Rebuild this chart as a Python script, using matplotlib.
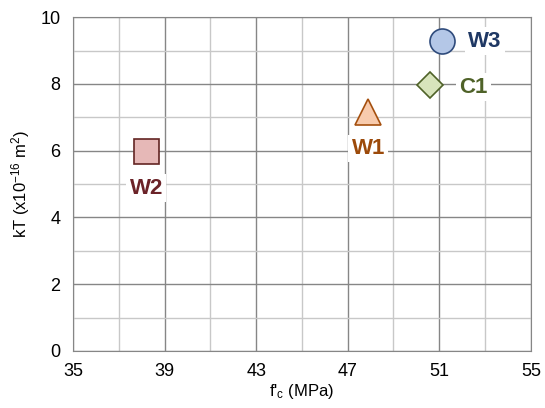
import matplotlib
matplotlib.use("Agg")
import matplotlib.pyplot as plt
import numpy as np

plt.rcParams['font.family'] = ['Liberation Sans', 'DejaVu Sans']
plt.rcParams['mathtext.default'] = 'regular'

# Mix data: compressive strength (MPa) vs. air permeability kT (x1e-16 m2)
names = ['W1', 'W2', 'W3', 'C1']
fc = [47.9, 38.2, 51.1, 50.6]
kt = [7.15, 6.0, 9.28, 7.98]

x_major = [35, 39, 43, 47, 51, 55]
y_major = [0, 2, 4, 6, 8, 10]

markers = ['^', 's', 'o', 'D']
sizes = [19, 18, 18, 13.5]
faces = ['#F8CBAD', '#E6B8B7', '#B4C7E7', '#D8E4BC']
edges = ['#A5500F', '#632523', '#2F4B7C', '#4F6228']
text_colors = ['#9C4A0A', '#6B2328', '#1F3864', '#4F6228']
# label offsets in points (dx, dy)
offsets = [(0, -26), (0, -27), (31, 0), (31, -2)]

fig = plt.figure(figsize=(5.45, 4.08), dpi=100)
ax = fig.add_axes([0.134, 0.140, 0.840, 0.818])

for name, x, y, m, s, fcol, ecol, tcol, off in zip(
        names, fc, kt, markers, sizes, faces, edges, text_colors, offsets):
    ax.plot(x, y, marker=m, markersize=s, markerfacecolor=fcol,
            markeredgecolor=ecol, markeredgewidth=1.2, linestyle='none', zorder=4)
    ax.annotate(name, xy=(x, y), xytext=off, textcoords='offset points',
                ha='center', va='center', fontsize=16, fontweight='bold', color=tcol,
                bbox=dict(boxstyle='square,pad=0.15', fc='white', ec='none'), zorder=5)

ax.set_xlim(35, 55)
ax.set_ylim(0, 10)
ax.set_xticks(x_major)
ax.set_xticks(np.arange(37, 55, 4), minor=True)
ax.set_yticks(y_major)
ax.set_yticks(np.arange(1, 10, 2), minor=True)
ax.grid(which='major', color='#868686', linewidth=1.0, zorder=0)
ax.grid(which='minor', color='#C8C8C8', linewidth=1.0, zorder=0)
ax.set_axisbelow(True)
ax.tick_params(which='both', length=0, labelsize=13, pad=9)
for sp in ax.spines.values():
    sp.set_color('#868686')

ax.set_xlabel("f'$_c$ (MPa)", fontsize=12, labelpad=1)
ax.set_ylabel("kT (x10$^{-16}$ m$^2$)", fontsize=12, labelpad=6)

fig.savefig('out.png', dpi=100)
